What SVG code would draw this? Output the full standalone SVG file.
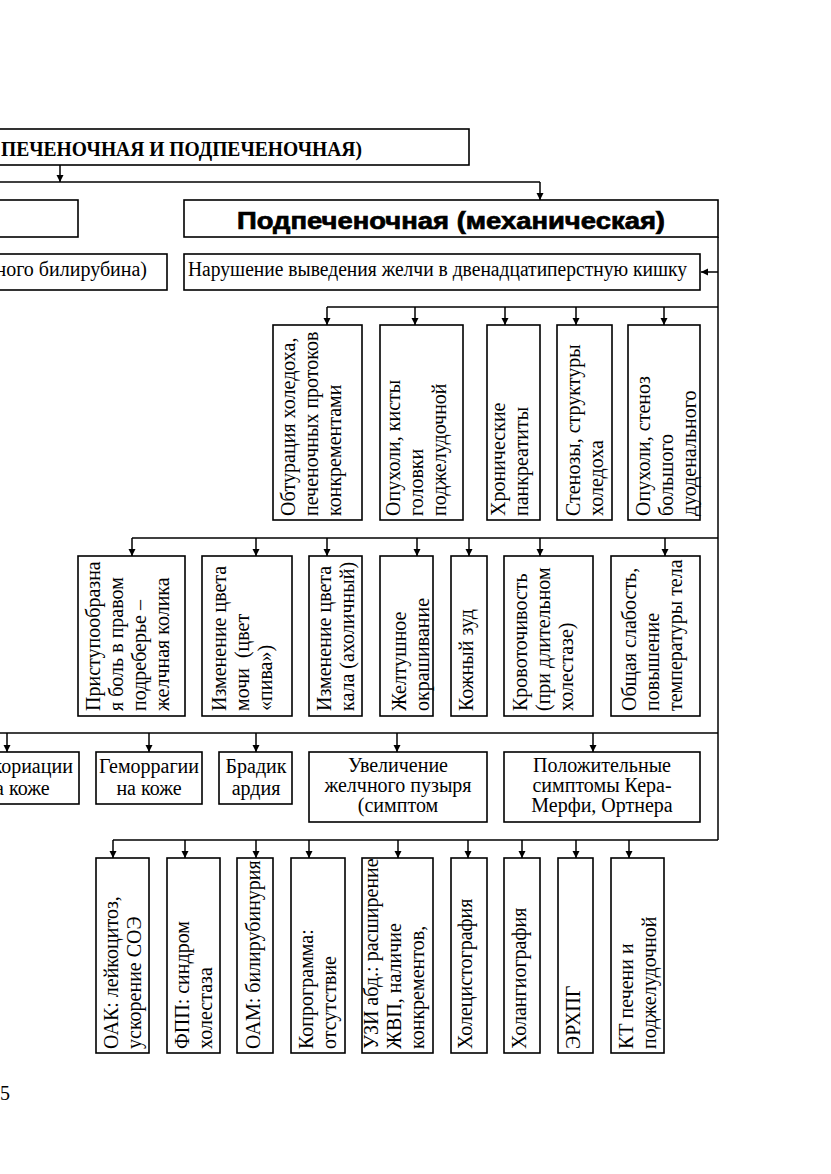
<svg xmlns="http://www.w3.org/2000/svg" width="831" height="1174" viewBox="0 0 831 1174">
<style>
.bx{fill:#fff;stroke:#000;stroke-width:1.6}
.ln{fill:none;stroke:#000;stroke-width:1.5}
.ar{fill:none;stroke:#000;stroke-width:1.5;marker-end:url(#ah)}
.t{font-family:"Liberation Serif","Times New Roman",serif;font-size:20px;fill:#000}
.c{text-anchor:middle}
.tb{font-family:"Liberation Serif","Times New Roman",serif;font-size:20px;font-weight:bold;fill:#000}
.h{font-family:"Liberation Sans",Arial,sans-serif;font-size:23px;font-weight:bold;fill:#000;stroke:#000;stroke-width:0.7}
</style>
<defs>
<marker id="ah" markerWidth="8" markerHeight="8" refX="7" refY="4" orient="auto" markerUnits="userSpaceOnUse">
<path d="M0,0.5 L7,4 L0,7.5 Z" fill="#000"/>
</marker>
</defs>
<rect width="831" height="1174" fill="#fff"/>

<g id="connectors">
<path class="ar" d="M60,165 V182"/>
<path class="ln" d="M0,182 H540"/>
<path class="ar" d="M540,182 V200"/>
<path class="ln" d="M718,237 V840"/>
<path class="ar" d="M718,272 H701"/>
<path class="ln" d="M327,307 H718"/>
<path class="ar" d="M327,307 V325"/>
<path class="ar" d="M415,307 V325"/>
<path class="ar" d="M505,307 V325"/>
<path class="ar" d="M576,307 V325"/>
<path class="ar" d="M664,307 V325"/>
<path class="ln" d="M132,538 H718"/>
<path class="ar" d="M132,538 V556"/>
<path class="ar" d="M256,538 V556"/>
<path class="ar" d="M327,538 V556"/>
<path class="ar" d="M417,538 V556"/>
<path class="ar" d="M469,538 V556"/>
<path class="ar" d="M540,538 V556"/>
<path class="ar" d="M665,538 V556"/>
<path class="ln" d="M0,733 H718"/>
<path class="ar" d="M7,733 V752"/>
<path class="ar" d="M149,733 V752"/>
<path class="ar" d="M256,733 V752"/>
<path class="ar" d="M397,733 V752"/>
<path class="ar" d="M593,733 V752"/>
<path class="ln" d="M113,840 H718"/>
<path class="ar" d="M113,840 V858"/>
<path class="ar" d="M185,840 V858"/>
<path class="ar" d="M256,840 V858"/>
<path class="ar" d="M309,840 V858"/>
<path class="ar" d="M398,840 V858"/>
<path class="ar" d="M468,840 V858"/>
<path class="ar" d="M522,840 V858"/>
<path class="ar" d="M576,840 V858"/>
<path class="ar" d="M629,840 V858"/>
</g>

<g id="n-top"><rect class="bx" x="-5" y="129" width="474" height="36"/>
<text class="tb" x="1" y="156" textLength="361" lengthAdjust="spacingAndGlyphs">ПЕЧЕНОЧНАЯ И ПОДПЕЧЕНОЧНАЯ)</text></g>

<g id="n-left1"><rect class="bx" x="-5" y="200" width="83" height="37"/></g>
<g id="n-sub"><rect class="bx" x="184" y="200" width="534" height="37"/>
<text class="h" x="237" y="229" textLength="428" lengthAdjust="spacingAndGlyphs">Подпеченочная (механическая)</text></g>

<g id="n-left2"><rect class="bx" x="-5" y="254" width="172" height="36"/>
<text class="t" x="147" y="276" text-anchor="end">ного билирубина)</text></g>
<g id="n-mech"><rect class="bx" x="184" y="254" width="516" height="36"/>
<text class="t" x="188" y="276" textLength="499" lengthAdjust="spacingAndGlyphs">Нарушение выведения желчи в двенадцатиперстную кишку</text></g>

<g id="c1"><rect class="bx" x="273" y="325" width="89" height="195"/>
<text class="t" transform="translate(295,516) rotate(-90)"><tspan x="0" y="0">Обтурация холедоха,</tspan><tspan x="0" y="23">печеночных протоков</tspan><tspan x="0" y="46">конкрементами</tspan></text></g>
<g id="c2"><rect class="bx" x="380" y="325" width="83" height="195"/>
<text class="t" transform="translate(400,516) rotate(-90)"><tspan x="0" y="0">Опухоли, кисты</tspan><tspan x="0" y="23">головки</tspan><tspan x="0" y="46">поджелудочной</tspan></text></g>
<g id="c3"><rect class="bx" x="487" y="325" width="53" height="195"/>
<text class="t" transform="translate(505,516) rotate(-90)"><tspan x="0" y="0">Хронические</tspan><tspan x="0" y="23">панкреатиты</tspan></text></g>
<g id="c4"><rect class="bx" x="557" y="325" width="55" height="195"/>
<text class="t" transform="translate(580,516) rotate(-90)"><tspan x="0" y="0">Стенозы, структуры</tspan><tspan x="0" y="23">холедоха</tspan></text></g>
<g id="c5"><rect class="bx" x="628" y="325" width="72" height="195"/>
<text class="t" transform="translate(650,516) rotate(-90)"><tspan x="0" y="0">Опухоли, стеноз</tspan><tspan x="0" y="23">большого</tspan><tspan x="0" y="46">дуоденального</tspan></text></g>

<g id="s1"><rect class="bx" x="78" y="556" width="107" height="160"/>
<text class="t" transform="translate(100,711) rotate(-90)"><tspan x="0" y="0">Приступообразна</tspan><tspan x="0" y="23">я боль в правом</tspan><tspan x="0" y="46">подреберье –</tspan><tspan x="0" y="69">желчная колика</tspan></text></g>
<g id="s2"><rect class="bx" x="202" y="556" width="90" height="160"/>
<text class="t" transform="translate(226,711) rotate(-90)"><tspan x="0" y="0">Изменение цвета</tspan><tspan x="0" y="23">мочи&#160; (цвет</tspan><tspan x="0" y="46">«пива»)</tspan></text></g>
<g id="s3"><rect class="bx" x="309" y="556" width="53" height="160"/>
<text class="t" transform="translate(331,711) rotate(-90)"><tspan x="0" y="0">Изменение цвета</tspan><tspan x="0" y="23">кала (ахоличный)</tspan></text></g>
<g id="s4"><rect class="bx" x="380" y="556" width="53" height="160"/>
<text class="t" transform="translate(406,711) rotate(-90)"><tspan x="0" y="0">Желтушное</tspan><tspan x="0" y="23">окрашивание</tspan></text></g>
<g id="s5"><rect class="bx" x="451" y="556" width="36" height="160"/>
<text class="t" transform="translate(473,711) rotate(-90)">Кожный зуд</text></g>
<g id="s6"><rect class="bx" x="504" y="556" width="89" height="160"/>
<text class="t" transform="translate(527,711) rotate(-90)"><tspan x="0" y="0">Кровоточивость</tspan><tspan x="0" y="23">(при длительном</tspan><tspan x="0" y="46">холестазе)</tspan></text></g>
<g id="s7"><rect class="bx" x="611" y="556" width="89" height="160"/>
<text class="t" transform="translate(636,711) rotate(-90)"><tspan x="0" y="0">Общая слабость,</tspan><tspan x="0" y="23">повышение</tspan><tspan x="0" y="46">температуры тела</tspan></text></g>

<g id="o1"><rect class="bx" x="-45" y="752" width="124" height="52"/>
<text class="t c" x="17" y="773">Экскориации</text><text class="t c" x="17" y="795">на коже</text></g>
<g id="o2"><rect class="bx" x="96" y="752" width="106" height="52"/>
<text class="t c" x="149" y="773">Геморрагии</text><text class="t c" x="149" y="795">на коже</text></g>
<g id="o3"><rect class="bx" x="219" y="752" width="73" height="52"/>
<text class="t c" x="256" y="773">Брадик</text><text class="t c" x="256" y="795">ардия</text></g>
<g id="o4"><rect class="bx" x="309" y="752" width="178" height="70"/>
<text class="t c" x="398" y="772">Увеличение</text><text class="t c" x="398" y="792">желчного пузыря</text><text class="t c" x="398" y="812">(симптом</text></g>
<g id="o5"><rect class="bx" x="504" y="752" width="196" height="70"/>
<text class="t c" x="602" y="772">Положительные</text><text class="t c" x="602" y="792">симптомы Кера-</text><text class="t c" x="602" y="812">Мерфи, Ортнера</text></g>

<g id="d1"><rect class="bx" x="96" y="858" width="53" height="195"/>
<text class="t" transform="translate(118,1049) rotate(-90)"><tspan x="0" y="0">ОАК: лейкоцитоз,</tspan><tspan x="0" y="23">ускорение СОЭ</tspan></text></g>
<g id="d2"><rect class="bx" x="167" y="858" width="53" height="195"/>
<text class="t" transform="translate(189,1049) rotate(-90)"><tspan x="0" y="0">ФПП: синдром</tspan><tspan x="0" y="23">холестаза</tspan></text></g>
<g id="d3"><rect class="bx" x="237" y="858" width="36" height="195"/>
<text class="t" transform="translate(260,1049) rotate(-90)">ОАМ: билирубинурия</text></g>
<g id="d4"><rect class="bx" x="291" y="858" width="54" height="195"/>
<text class="t" transform="translate(313,1049) rotate(-90)"><tspan x="0" y="0">Копрограмма:</tspan><tspan x="0" y="23">отсутствие</tspan></text></g>
<g id="d5"><rect class="bx" x="362" y="858" width="71" height="195"/>
<text class="t" transform="translate(378,1049) rotate(-90)"><tspan x="0" y="0">УЗИ абд.: расширение</tspan><tspan x="0" y="23">ЖВП, наличие</tspan><tspan x="0" y="46">конкрементов,</tspan></text></g>
<g id="d6"><rect class="bx" x="451" y="858" width="36" height="195"/>
<text class="t" transform="translate(472,1049) rotate(-90)">Холецистография</text></g>
<g id="d7"><rect class="bx" x="504" y="858" width="36" height="195"/>
<text class="t" transform="translate(526,1049) rotate(-90)">Холангиография</text></g>
<g id="d8"><rect class="bx" x="558" y="858" width="35" height="195"/>
<text class="t" transform="translate(580,1049) rotate(-90)">ЭРХПГ</text></g>
<g id="d9"><rect class="bx" x="611" y="858" width="53" height="195"/>
<text class="t" transform="translate(633,1049) rotate(-90)"><tspan x="0" y="0">КТ печени и</tspan><tspan x="0" y="23">поджелудочной</tspan></text></g>

<text class="t" x="0" y="1100" font-size="18">5</text>
</svg>
